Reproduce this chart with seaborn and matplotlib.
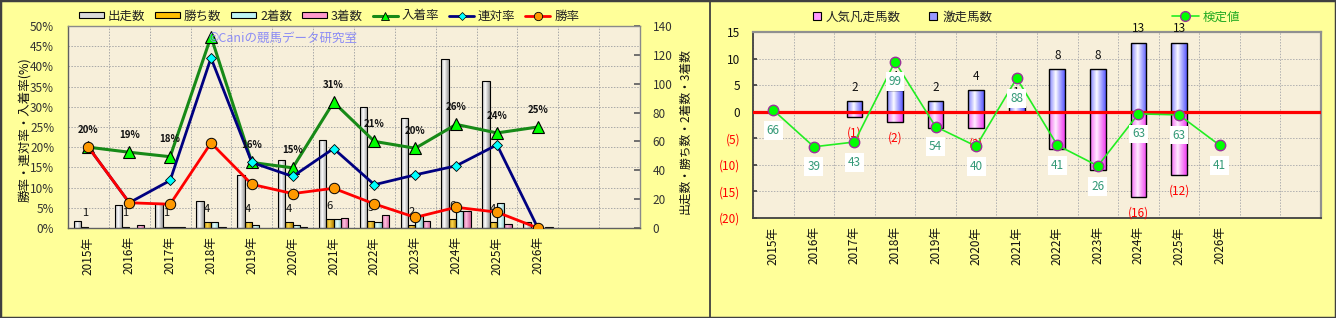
import numpy as np
import pandas as pd
import matplotlib
matplotlib.use("Agg")
import matplotlib.pyplot as plt
import seaborn as sns
from matplotlib.patches import Patch, Rectangle
from matplotlib.lines import Line2D

sns.set_theme(style="white")
plt.rcParams['font.family'] = ['Noto Sans CJK JP', 'DejaVu Sans']

# ---------------- data ----------------
years = ["2015年", "2016年", "2017年", "2018年", "2019年", "2020年",
         "2021年", "2022年", "2023年", "2024年", "2025年", "2026年"]
spare_slots = ["_s1", "_s2"]

runs    = [5, 16, 17, 19, 37, 47, 61, 84, 76, 117, 102, 4]
wins    = [1, 1, 1, 4, 4, 4, 6, 5, 2, 6, 4, 0]
seconds = [0, 0, 1, 4, 2, 2, 6, 4, 8, 12, 17, 0]
thirds  = [0, 2, 1, 1, 0, 1, 7, 9, 5, 12, 3, 1]
bar_series = ["出走数", "勝ち数", "2着数", "3着数"]

gekiso = [0, 0, 2, 4, 2, 4, 1, 8, 8, 13, 13, 0]
bonso  = [0, 0, -1, -2, -3, -3, 0, -7, -11, -16, -12, 0]
kentei_pos = [0.3, -6.6, -5.7, 9.4, -2.8, -6.5, 6.3, -6.3, -10.2, -0.4, -0.6, -6.3]
kentei_val = [66, 39, 43, 99, 54, 40, 88, 41, 26, 63, 63, 41]

runs_a = np.array(runs, float)
win_rate = np.array(wins) / runs_a * 100
rentai_rate = (np.array(wins) + np.array(seconds)) / runs_a * 100
place_rate = (np.array(wins) + np.array(seconds) + np.array(thirds)) / runs_a * 100

# ---------------- style ----------------
FIG_BG = '#FFFF99'
PLOT_BG = '#F7EFDA'
W, H = 1336, 318

fig = plt.figure(figsize=(W / 100, H / 100), dpi=100, facecolor=FIG_BG)


def fr(x0, y0, x1, y1):
    return [x0 / W, 1 - y1 / H, (x1 - x0) / W, (y1 - y0) / H]


def grad_fill(ax, patch, edge, center, peak=0.42):
    x0, w = patch.get_x(), patch.get_width()
    y0, h = patch.get_y(), patch.get_height()
    t = np.linspace(0, 1, 64)
    f = np.clip(np.abs(t - peak) / (1 - peak), 0, 1) ** 0.9
    edge = np.array(matplotlib.colors.to_rgb(edge))
    center = np.array(matplotlib.colors.to_rgb(center))
    cols = center[None, :] + (edge - center)[None, :] * f[:, None]
    img = cols[None, :, :]
    im = ax.imshow(img, extent=[x0, x0 + w, min(y0, y0 + h), max(y0, y0 + h)],
                   aspect='auto', interpolation='bilinear',
                   zorder=patch.get_zorder() - 0.01)
    im.set_clip_path(patch)
    patch.set_facecolor('none')


order = years + spare_slots
idx = np.arange(len(years))

# ================= LEFT CHART =================
axb = fig.add_axes(fr(68, 26, 640, 228))
axb.set_facecolor(PLOT_BG)

df = pd.DataFrame({
    "year": years * 4,
    "series": np.repeat(bar_series, len(years)),
    "count": runs + wins + seconds + thirds,
})
bar_cols = ['#F4F4F4', '#FFC000', '#CCFFFF', '#FF99CC']
sns.barplot(data=df, x="year", y="count", hue="series", order=order,
            hue_order=bar_series, palette=bar_cols, width=0.72, saturation=1,
            edgecolor='black', linewidth=0.8, legend=False, errorbar=None, ax=axb)

grad_specs = [('#9A9A9A', '#FFFFFF'), ('#B08000', '#FFD84A'),
              ('#88C8C8', '#E8FFFF'), ('#D0609A', '#FFC0E0')]
for cont, (ec, cc) in zip(axb.containers, grad_specs):
    for bar in cont:
        if bar.get_height() == 0:
            bar.set_visible(False)
        else:
            grad_fill(axb, bar, ec, cc)

# win-count labels above the 勝ち数 bars
for bar, w in zip(axb.containers[1], wins):
    if w > 0:
        axb.annotate(str(w), (bar.get_x() + bar.get_width() / 2, bar.get_y() + bar.get_height()),
                     xytext=(0, 9.5), textcoords='offset points', ha='center', va='center',
                     fontsize=8, color='#111111')

axb.set_ylim(0, 140)
axb.set_yticks(np.arange(0, 141, 20))
axb.set_yticks(np.arange(0, 141, 14), minor=True)
axb.set_xticks(np.arange(len(order)))
axb.set_xticklabels(years + ['', ''], rotation=90, fontsize=8.5)
axb.set_xticks(np.arange(-0.5, len(order), 1), minor=True)
axb.set_axisbelow(True)
axb.grid(which='minor', color='#A8A8A8', linestyle=(0, (1.5, 1.5)), linewidth=0.7)
axb.grid(which='major', visible=False)
axb.set_xlabel('')
axb.set_ylabel('')

axl = axb.twinx()
sns.lineplot(x=idx, y=place_rate, ax=axl, color='#178A17', linewidth=2.2,
             marker='^', markersize=9, markerfacecolor='#00FF00',
             markeredgecolor='black', markeredgewidth=0.8)
sns.lineplot(x=idx, y=rentai_rate, ax=axl, color='#000080', linewidth=2.0,
             marker='D', markersize=5.5, markerfacecolor='#00FFFF',
             markeredgecolor='black', markeredgewidth=0.6)
sns.lineplot(x=idx, y=win_rate, ax=axl, color='#FF0000', linewidth=2.0,
             marker='o', markersize=7.5, markerfacecolor='#FF9900',
             markeredgecolor='black', markeredgewidth=0.7)
AX_TOP_PCT = 50
for i, v in enumerate(place_rate):
    # labels that would fall above the plot area are not shown (as in the reference)
    if v > AX_TOP_PCT - 5:
        continue
    axl.annotate(f"{int(round(v))}%", (i, v), xytext=(0, 12.5), textcoords='offset points',
                 ha='center', va='center', fontsize=7, fontweight='bold',
                 color='#111111')
axl.set_ylim(0, AX_TOP_PCT)
axl.set_yticks(np.arange(0, 51, 5))
axl.set_yticklabels([f"{v}%" for v in range(0, 51, 5)])
axl.set_xlabel('')
axl.set_ylabel('')

axb.yaxis.tick_right()
axl.yaxis.tick_left()
axb.set_xlim(-0.5, len(order) - 0.5)
axb.tick_params(axis='y', which='major', right=True, left=False, direction='in',
                length=4, color='#606060', pad=9, labelsize=8.5, labelcolor='#333333')
axb.tick_params(axis='x', which='major', length=0, pad=6, labelcolor='#111111')
axb.tick_params(which='minor', length=0)
axl.tick_params(axis='y', length=0, pad=10, labelsize=8.5, labelcolor='#333333')
for s in axl.spines.values():
    s.set_visible(False)
for name, s in axb.spines.items():
    s.set_color('#606060' if name in ('left', 'bottom') else '#8A8A8A')
    s.set_linewidth(1.0)

fig.text(25 / W, 1 - 130 / H, '勝率・連対率・入着率(%)', rotation=90,
         ha='center', va='center', fontsize=9, color='#111111')
fig.text(685 / W, 1 - 131 / H, '出走数・勝ち数・2着数・3着数', rotation=90,
         ha='center', va='center', fontsize=8.5, color='#111111')
fig.text(208 / W, 1 - 38 / H, '©Caniの競馬データ研究室', ha='left', va='center',
         fontsize=9, color='#8C8CF5')

h1 = [Patch(facecolor=c, edgecolor='black', linewidth=0.8) for c in ['#DADADA', '#FFC000', '#BFF5F5', '#FF99CC']]
h1 += [Line2D([], [], color='#178A17', lw=2.2, marker='^', markersize=6, markerfacecolor='#00FF00', markeredgecolor='black', markeredgewidth=0.6),
       Line2D([], [], color='#000080', lw=2.0, marker='D', markersize=4, markerfacecolor='#00FFFF', markeredgecolor='black', markeredgewidth=0.5),
       Line2D([], [], color='#FF0000', lw=2.0, marker='o', markersize=6, markerfacecolor='#FF9900', markeredgecolor='black', markeredgewidth=0.6)]
l1 = bar_series + ['入着率', '連対率', '勝率']
fig.legend(h1, l1, loc='center', bbox_to_anchor=(329 / W, 1 - 16 / H), ncol=7, frameon=False,
           fontsize=9, handlelength=2.0, handleheight=0.45, columnspacing=0.8,
           handletextpad=0.3, borderaxespad=0, labelcolor='#222222')

# ================= RIGHT CHART =================
axr = fig.add_axes(fr(753, 32, 1321, 218))
axr.set_facecolor(PLOT_BG)
df_r = pd.DataFrame({"year": years, "gekiso": gekiso, "bonso": bonso})
sns.barplot(data=df_r, x="year", y="gekiso", order=order, color='#8080FF', width=0.39,
            saturation=1, edgecolor='black', linewidth=1.0, errorbar=None, ax=axr)
sns.barplot(data=df_r, x="year", y="bonso", order=order, color='#FF80FF', width=0.39,
            saturation=1, edgecolor='black', linewidth=1.0, errorbar=None, ax=axr)
for cont, (ec, cc) in zip(axr.containers, [('#5A5AFF', '#FFFFFF'), ('#F040F0', '#FFF0FF')]):
    for bar in cont:
        if bar.get_height() == 0:
            bar.set_visible(False)
        else:
            grad_fill(axr, bar, ec, cc)

for bar, v in zip(axr.containers[0], gekiso):
    if v > 0:
        axr.annotate(str(v), (bar.get_x() + bar.get_width() / 2, v), xytext=(0, 10),
                     textcoords='offset points', ha='center', va='center',
                     fontsize=8.5, color='#111111', zorder=3)
for bar, v in zip(axr.containers[1], bonso):
    if v < 0:
        axr.annotate(f"({-v})", (bar.get_x() + bar.get_width() / 2, v), xytext=(0, -11.5),
                     textcoords='offset points', ha='center', va='center',
                     fontsize=8.5, color='#FF0000', zorder=3)

axr.axhline(0, color='#FF0000', lw=2.3, zorder=3.5)
sns.lineplot(x=idx, y=kentei_pos, ax=axr, color='#22EE22', linewidth=1.2,
             marker='o', markersize=7.5, markerfacecolor='#00FF00',
             markeredgecolor='#993399', markeredgewidth=1.0, zorder=4)
for i, (p, v) in enumerate(zip(kentei_pos, kentei_val)):
    axr.annotate(str(v), (i, p), xytext=(0, -14.5), textcoords='offset points',
                 ha='center', va='center', fontsize=8.5, color='#339977', zorder=5,
                 bbox=dict(boxstyle='square,pad=0.25', fc='white', ec='none'))

axr.set_xlim(-0.5, len(order) - 0.5)
axr.set_ylim(-20, 15)
yt = np.arange(-20, 16, 5)
axr.set_yticks(yt)
axr.set_yticklabels([f"({-v})" if v < 0 else str(v) for v in yt])
for lab, v in zip(axr.get_yticklabels(), yt):
    lab.set_color('#FF0000' if v < 0 else '#111111')
axr.set_xticks(np.arange(len(order)))
axr.set_xticklabels(years + ['', ''], rotation=90, fontsize=8.5)
axr.set_xticks(np.arange(-0.5, len(order), 1), minor=True)
axr.set_axisbelow(True)
axr.grid(which='major', axis='y', color='#B0B0B0', linestyle=(0, (1.5, 1.5)), linewidth=0.7)
axr.grid(which='minor', axis='x', color='#B0B0B0', linestyle=(0, (1.5, 1.5)), linewidth=0.7)
axr.tick_params(axis='y', which='major', left=True, direction='in', length=3,
                color='#404040', pad=9, labelsize=8.5)
axr.tick_params(axis='x', which='major', length=0, pad=6, labelcolor='#111111')
axr.tick_params(which='minor', length=0)
axr.set_xlabel('')
axr.set_ylabel('')
for name, s in axr.spines.items():
    if name in ('left', 'bottom'):
        s.set_color('#404040'); s.set_linewidth(1.3)
    else:
        s.set_color('#909090'); s.set_linewidth(1.6)

h2 = [Line2D([], [], linestyle='none', marker='s', markersize=5.5, markerfacecolor='#FF99FF', markeredgecolor='black', markeredgewidth=0.8),
      Line2D([], [], linestyle='none', marker='s', markersize=5.5, markerfacecolor='#9999FF', markeredgecolor='black', markeredgewidth=0.8)]
fig.legend(h2, ['人気凡走馬数', '激走馬数'], loc='center', bbox_to_anchor=(902 / W, 1 - 17 / H),
           ncol=2, frameon=False, fontsize=9, handlelength=0.8, columnspacing=2.2,
           handletextpad=0.3, borderaxespad=0, labelcolor='#222222')
h3 = [Line2D([], [], color='#22EE22', lw=1.2, marker='o', markersize=7, markerfacecolor='#00FF00',
             markeredgecolor='#993399', markeredgewidth=1.0)]
fig.legend(h3, ['検定値'], loc='center', bbox_to_anchor=(1206 / W, 1 - 17 / H),
           frameon=False, fontsize=9, handlelength=2.2, handletextpad=0.3,
           borderaxespad=0, labelcolor='#22AA22')

# frames
fig.add_artist(Rectangle((0, 0), 1, 1, transform=fig.transFigure, fill=False,
                         edgecolor='#404040', linewidth=2.5))
fig.add_artist(Line2D([709.5 / W, 709.5 / W], [0, 1], transform=fig.transFigure,
                      color='#404040', linewidth=1.3))

fig.savefig('out.png', dpi=100, facecolor=FIG_BG)
